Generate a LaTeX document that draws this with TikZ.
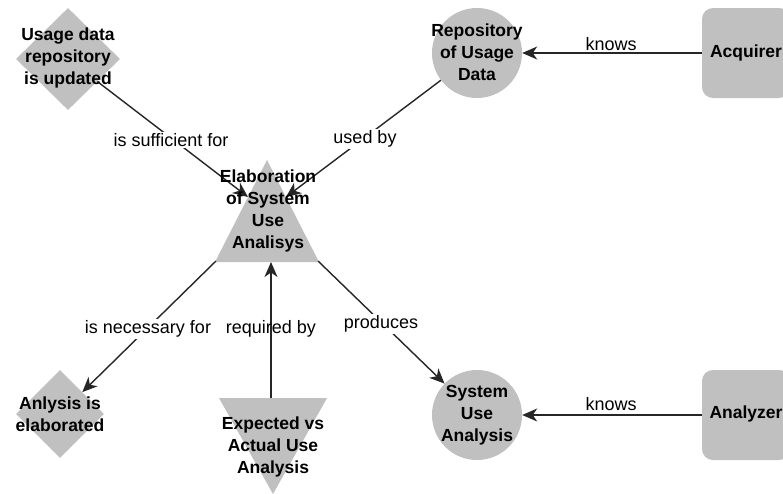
\documentclass[tikz,border=0pt]{standalone}
\usepackage{fontspec}
\setmainfont{Liberation Sans}
\usetikzlibrary{shapes.geometric,arrows.meta}
\definecolor{shapegray}{RGB}{192,192,192}
\begin{document}
\begin{tikzpicture}[x=1pt,y=-1pt,
  shapefill/.style={fill=shapegray, draw=none, inner sep=0pt},
  nodetext/.style={font=\fontsize{17.5}{21.8}\selectfont\bfseries, align=center, inner sep=0pt},
  linklabel/.style={font=\fontsize{18}{21}\selectfont, fill=white, inner sep=1.5pt},
  plainlabel/.style={font=\fontsize{18}{21}\selectfont, inner sep=1.5pt},
  link/.style={line width=1.4pt, draw=black!85, -{Stealth[length=15pt,width=13pt,inset=4.5pt]}},
]
\useasboundingbox (0,0) rectangle (783,493);
\fill[white] (0,0) rectangle (783,493);

% shapes
\node[shapefill, diamond, minimum width=104pt, minimum height=102pt] (d1) at (68,59) {};
\node[shapefill, circle, minimum size=90pt] (c1) at (477,53) {};
\node[shapefill, rectangle, rounded corners=11pt, minimum width=88pt, minimum height=90pt] (box1) at (746,53) {};
\fill[shapegray] (267,160) -- (215,262) -- (319,262) -- cycle;
\node[shapefill, diamond, minimum width=88pt, minimum height=88pt] (d2) at (60,414) {};
\fill[shapegray] (219,398) -- (327,398) -- (273,494) -- cycle;
\node[shapefill, circle, minimum size=90pt] (c2) at (477,415) {};
\node[shapefill, rectangle, rounded corners=11pt, minimum width=88pt, minimum height=90pt] (box2) at (746,415) {};

% connector end points on the triangles
\coordinate (t1l) at (248,197);
\coordinate (t1r) at (286,197);
\coordinate (t1bl) at (216,261);
\coordinate (t1br) at (318,261);
\coordinate (t1bot) at (271,262);
\coordinate (t2top) at (271,398);

% connectors
\draw[link] (d1) -- (t1l);
\draw[link] (c1) -- (t1r);
\draw[link] (box1) -- (c1);
\draw[link] (t1bl) -- (d2);
\draw[link] (t1br) -- (c2);
\draw[link] (t2top) -- (t1bot);
\draw[link] (box2) -- (c2);

% node texts
\node[nodetext] (d1t) at (68,58) {Usage data\\repository\\is updated};
\node[nodetext] (c1t) at (477,52) {Repository\\of Usage\\Data};
\node[nodetext] (box1t) at (746,53) {Acquirer};
\node[nodetext] (t1t) at (268,211) {Elaboration\\of System\\Use\\Analisys};
\node[nodetext] (d2t) at (60,414) {Anlysis is\\elaborated};
\node[nodetext] (t2t) at (273,447) {Expected vs\\Actual Use\\Analysis};
\node[nodetext] (c2t) at (477,415) {System\\Use\\Analysis};
\node[nodetext] (box2t) at (746,414) {Analyzer};

% link labels
\node[linklabel] (l1) at (171,140) {is sufficient for};
\node[linklabel] (l2) at (365,139) {used by};
\node[plainlabel] (l3) at (611,44) {knows};
\node[linklabel] (l4) at (148,329) {is necessary for};
\node[plainlabel] (l5) at (271,329) {required by};
\node[linklabel] (l6) at (381,324) {produces};
\node[plainlabel] (l7) at (611,404) {knows};
\end{tikzpicture}
\end{document}
